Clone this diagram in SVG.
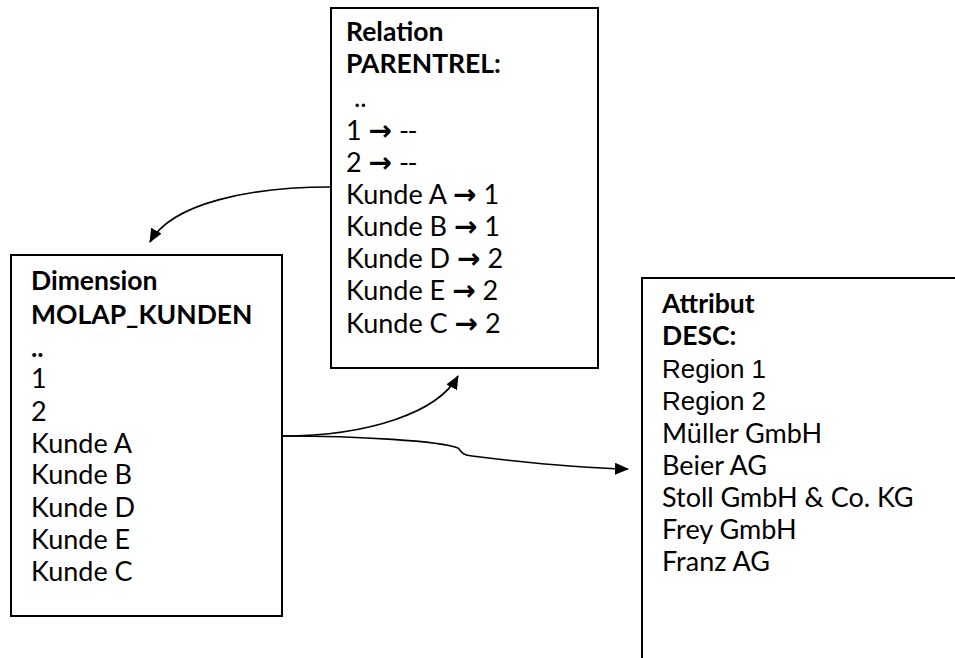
<svg xmlns="http://www.w3.org/2000/svg" width="955" height="658" viewBox="0 0 955 658">
<style>
.box{fill:#fff;stroke:#000;stroke-width:2}
.t{font-family:Lato,"Open Sans","DejaVu Sans",sans-serif;font-size:27px;fill:#000}
.b{font-weight:bold;font-size:26.5px}
.a{font-family:"Liberation Sans",Arial,sans-serif;font-size:26px;fill:#000}
.t .r{font-family:"DejaVu Sans",sans-serif;font-size:28px;font-weight:bold}
.d{letter-spacing:-1.5px}
.c{fill:none;stroke:#000;stroke-width:1.6}
</style>
<defs>
<marker id="ah" viewBox="0 0 14 12" refX="13" refY="6" markerWidth="14" markerHeight="12" markerUnits="userSpaceOnUse" orient="auto">
<path d="M0,0 L14,6 L0,12 Z" fill="#000"/>
</marker>
</defs>
<rect width="955" height="658" fill="#fff"/>
<g id="relation">
<rect class="box" x="331" y="8" width="267" height="360"/>
<text class="t b" x="346" y="41">Relation</text>
<text class="t b" x="346" y="73">PARENTREL:</text>
<text class="t" x="354" y="107">..</text>
<text class="t" x="346" y="140">1 <tspan class="r">→</tspan> <tspan class="d">--</tspan></text>
<text class="t" x="346" y="172">2 <tspan class="r">→</tspan> <tspan class="d">--</tspan></text>
<text class="t" x="346" y="204">Kunde A <tspan class="r">→</tspan> 1</text>
<text class="t" x="346" y="236">Kunde B <tspan class="r">→</tspan> 1</text>
<text class="t" x="346" y="268">Kunde D <tspan class="r">→</tspan> 2</text>
<text class="t" x="346" y="300">Kunde E <tspan class="r">→</tspan> 2</text>
<text class="t" x="346" y="333">Kunde C <tspan class="r">→</tspan> 2</text>
</g>
<g id="dimension">
<rect class="box" x="11" y="255" width="271" height="361"/>
<text class="t b" x="31" y="290">Dimension</text>
<text class="t b" x="31" y="324">MOLAP_KUNDEN</text>
<text class="t b" x="31" y="357">..</text>
<text class="t" x="31" y="388">1</text>
<text class="t" x="31" y="421">2</text>
<text class="t" x="31" y="453">Kunde A</text>
<text class="t" x="31" y="484">Kunde B</text>
<text class="t" x="31" y="517">Kunde D</text>
<text class="t" x="31" y="549">Kunde E</text>
<text class="t" x="31" y="581">Kunde C</text>
</g>
<g id="attribut">
<rect class="box" x="642" y="278" width="400" height="500"/>
<text class="t b" x="662" y="313">Attribut</text>
<text class="t b" x="662" y="345">DESC:</text>
<text class="a" x="662" y="378">Region 1</text>
<text class="a" x="662" y="410">Region 2</text>
<text class="t" x="662" y="443">Müller GmbH</text>
<text class="t" x="662" y="475">Beier AG</text>
<text class="t" x="662" y="507">Stoll GmbH &amp; Co. KG</text>
<text class="t" x="662" y="539">Frey GmbH</text>
<text class="t" x="662" y="571">Franz AG</text>
</g>
<g id="connectors">
<path class="c" d="M331,187 C250,187 172,203 150,242" marker-end="url(#ah)"/>
<path class="c" d="M282,436 C370,436 438,412 458,376" marker-end="url(#ah)"/>
<path class="c" d="M282,436 C360,436 440,441 458,448 C462,452 462,455 472,456 C520,462 580,468 628,469" marker-end="url(#ah)"/>
</g>
</svg>
